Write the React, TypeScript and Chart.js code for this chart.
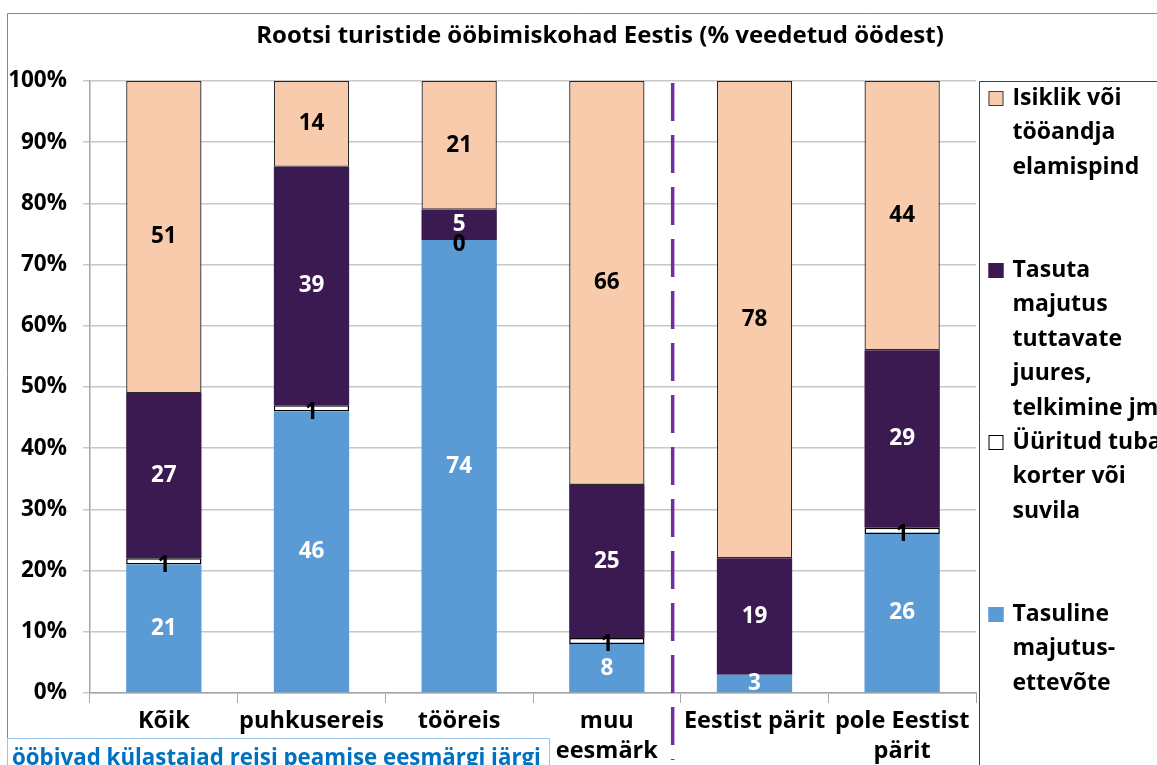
import React, { useEffect, useRef } from "react";
import { Chart, registerables } from "chart.js";

Chart.register(...registerables);

const FONT = "'Open Sans', 'Noto Sans', sans-serif";

const categories: (string | string[])[] = [
  "Kõik",
  "puhkusereis",
  "tööreis",
  ["muu", "eesmärk"],
  "Eestist pärit",
  ["pole Eestist", "pärit"],
];

const tasuline: (number | null)[] = [21, 46, 74, 8, 3, 26];
const yyritud: (number | null)[] = [1, 1, 0, 1, null, 1];
const tasuta: (number | null)[] = [27, 39, 5, 25, 19, 29];
const isiklik: (number | null)[] = [51, 14, 21, 66, 78, 44];

const seriesNames = [
  "Tasuline majutus-ettevõte",
  "Üüritud tuba, korter või suvila",
  "Tasuta majutus tuttavate juures, telkimine jm",
  "Isiklik või tööandja elamispind",
];

const legendLines: string[][] = [
  ["Tasuline", "majutus-", "ettevõte"],
  ["Üüritud tuba,", "korter või", "suvila"],
  ["Tasuta", "majutus", "tuttavate", "juures,", "telkimine jm"],
  ["Isiklik või", "tööandja", "elamispind"],
];

const yTicks = [0, 10, 20, 30, 40, 50, 60, 70, 80, 90, 100];

const titleText = "Rootsi turistide ööbimiskohad Eestis (% veedetud öödest)";
const noteText = "ööbivad külastajad reisi peamise eesmärgi järgi";

const colors = ["#5B9BD5", "#FFFFFF", "#3B1A52", "#F8CBAD"];
const borderColors = ["#5B9BD5", "#000000", "#3B1A52", "#2A2A2A"];
const borderWidths = [0, 1.5, 0, 1.3];
const labelColors = ["#FFFFFF", "#000000", "#FFFFFF", "#000000"];
const labelOffsets = [0, 4, 0, 0];

const decorPlugin = {
  id: "decor",
  beforeDraw(chart: any) {
    const ctx = chart.ctx;
    ctx.save();
    ctx.fillStyle = "#FFFFFF";
    ctx.fillRect(0, 0, chart.width, chart.height);
    ctx.restore();
  },
  afterDatasetsDraw(chart: any) {
    const ctx = chart.ctx;
    ctx.save();
    ctx.font = `bold 22.5px ${FONT}`;
    ctx.textAlign = "center";
    ctx.textBaseline = "middle";
    chart.data.datasets.forEach((ds: any, di: number) => {
      const meta = chart.getDatasetMeta(di);
      meta.data.forEach((el: any, i: number) => {
        const v = ds.data[i];
        if (v === null || v === undefined) return;
        const { x, y, base } = el.getProps(["x", "y", "base"], true);
        ctx.fillStyle = labelColors[di];
        ctx.fillText(String(v), x, (y + base) / 2 + labelOffsets[di]);
      });
    });
    ctx.restore();
  },
  afterDraw(chart: any) {
    const ctx = chart.ctx;
    const area = chart.chartArea;
    const xs = chart.scales.x;
    ctx.save();

    // outer frame
    ctx.strokeStyle = "#868686";
    ctx.lineWidth = 1;
    ctx.beginPath();
    ctx.moveTo(7.5, 738);
    ctx.lineTo(7.5, 13.5);
    ctx.lineTo(chart.width, 13.5);
    ctx.stroke();

    // title
    ctx.fillStyle = "#000000";
    ctx.font = `bold 24px ${FONT}`;
    ctx.textAlign = "center";
    ctx.textBaseline = "middle";
    ctx.fillText(titleText, 600, 36);

    // dashed separator
    const sepX = (xs.getPixelForValue(3) + xs.getPixelForValue(4)) / 2 - 8;
    ctx.strokeStyle = "#7030A0";
    ctx.lineWidth = 3.5;
    ctx.setLineDash([38, 14]);
    ctx.beginPath();
    ctx.moveTo(sepX, area.top + 2);
    ctx.lineTo(sepX, 760);
    ctx.stroke();
    ctx.setLineDash([]);

    // legend box
    const lx = area.right + 3.5;
    ctx.strokeStyle = "#404040";
    ctx.lineWidth = 1;
    ctx.beginPath();
    ctx.moveTo(lx, chart.height);
    ctx.lineTo(lx, area.top + 0.5);
    ctx.lineTo(chart.width, area.top + 0.5);
    ctx.stroke();

    ctx.font = `bold 23px ${FONT}`;
    ctx.textAlign = "left";
    ctx.textBaseline = "middle";
    for (let k = 0; k < 4; k++) {
      const di = 3 - k;
      const y0 = area.top + 17 + k * 172;
      ctx.fillStyle = colors[di];
      ctx.fillRect(lx + 9, y0 - 7, 15, 15);
      ctx.strokeStyle = di === 1 ? "#000000" : di === 3 ? "#404040" : colors[di];
      ctx.lineWidth = 1;
      ctx.strokeRect(lx + 9.5, y0 - 6.5, 14, 14);
      ctx.fillStyle = "#000000";
      legendLines[di].forEach((line, j) => {
        ctx.fillText(line, lx + 33, y0 + j * 34.5);
      });
    }

    // note box
    ctx.strokeStyle = "#9DC3E6";
    ctx.lineWidth = 1;
    ctx.beginPath();
    ctx.moveTo(7.5, chart.height);
    ctx.lineTo(7.5, 738.5);
    ctx.lineTo(549.5, 738.5);
    ctx.lineTo(549.5, chart.height);
    ctx.stroke();
    ctx.fillStyle = "#0070C0";
    ctx.font = `bold 22.3px ${FONT}`;
    ctx.textBaseline = "alphabetic";
    ctx.textAlign = "left";
    ctx.fillText(noteText, 12, 765);

    ctx.restore();
  },
};

export default function App() {
  const ref = useRef<HTMLCanvasElement | null>(null);

  useEffect(() => {
    if (!ref.current) return;
    Chart.defaults.font.family = FONT;
    const dataSeries = [tasuline, yyritud, tasuta, isiklik];
    const chart = new Chart(ref.current, {
      type: "bar",
      data: {
        labels: categories,
        datasets: dataSeries.map((d, i) => ({
          label: seriesNames[i],
          data: d,
          backgroundColor: colors[i],
          borderColor: borderColors[i],
          borderWidth: borderWidths[i],
          borderSkipped: false,
          barPercentage: 0.51,
          categoryPercentage: 1.0,
        })),
      },
      options: {
        animation: false,
        responsive: true,
        maintainAspectRatio: false,
        layout: { padding: { top: 81, right: 181, left: 0, bottom: 0 } },
        plugins: {
          legend: { display: false },
          title: { display: false },
          tooltip: { enabled: false },
        },
        scales: {
          x: {
            stacked: true,
            grid: {
              offset: true,
              drawOnChartArea: false,
              drawTicks: true,
              tickLength: 10,
              color: "#A6A6A6",
            },
            border: { color: "#A6A6A6", width: 1.5 },
            ticks: {
              autoSkip: false,
              maxRotation: 0,
              minRotation: 0,
              color: "#000000",
              padding: 3,
              font: { size: 23.5, weight: "bold", lineHeight: 1.28 },
            },
            afterFit(scale: any) {
              scale.height = 72;
            },
          },
          y: {
            stacked: true,
            min: 0,
            max: 100,
            afterBuildTicks(scale: any) {
              scale.ticks = yTicks.map((v) => ({ value: v }));
            },
            grid: {
              color: "#C8C8C8",
              lineWidth: 1.5,
              tickLength: 7,
            },
            border: { color: "#A6A6A6", width: 1.5 },
            ticks: {
              color: "#000000",
              padding: 16,
              font: { size: 22.5, weight: "bold" },
              callback: (v: any) => `${v}%`,
            },
            afterFit(scale: any) {
              scale.width = 90;
            },
          },
        },
      },
      plugins: [decorPlugin],
    });
    return () => chart.destroy();
  }, []);

  return (
    <div style={{ position: "absolute", left: 0, top: 0, width: 1157, height: 765 }}>
      <canvas ref={ref} />
    </div>
  );
}
